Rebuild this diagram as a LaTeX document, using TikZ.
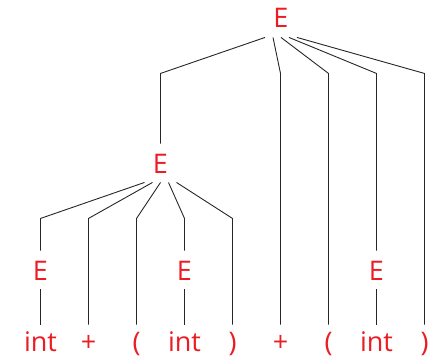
\documentclass[tikz,border=0pt]{standalone}
\usepackage{fontspec}
\setmainfont{Open Sans}
\usepackage{tikz}
\definecolor{symred}{RGB}{236,28,36}

\begin{document}
\begin{tikzpicture}[x=1pt, y=1pt, line width=0.9pt,
  sym/.style={symred, font=\fontsize{27}{27}\selectfont, anchor=base,
    text height=20pt, text depth=0pt, inner xsep=2pt, inner ysep=9pt},
  tok/.style={sym, text height=17pt},
  edge/.style={black!85}]
  \useasboundingbox (0,0) rectangle (437,357);
  % nonterminals
  \node[sym] (e0) at (281,329) {E};
  \node[sym] (e1) at (160.5,184) {E};
  \node[sym] (e2) at (40.5,77) {E};
  \node[sym] (e3) at (184.5,77) {E};
  \node[sym] (e4) at (376.5,77) {E};
  % tokens
  \node[tok] (t1) at (40.5,6) {int};
  \node[tok] (t2) at (88.5,6) {+};
  \node[tok] (t3) at (136.5,6) {(};
  \node[tok] (t4) at (184.5,6) {int};
  \node[tok] (t5) at (232.5,6) {)};
  \node[tok] (t6) at (280.5,6) {+};
  \node[tok] (t7) at (328.5,6) {(};
  \node[tok] (t8) at (376.5,6) {int};
  \node[tok] (t9) at (424.5,6) {)};
  % knee levels
  \coordinate (k0) at ([yshift=-36pt]e0.south);
  \coordinate (k1) at ([yshift=-36pt]e1.south);
  % E -> E + ( E ) ... top
  \draw[edge] ([xshift=-16pt]e0.south) -- (k0 -| e1) -- (e1.north);
  \draw[edge] ([xshift=-8pt]e0.south) -- (k0 -| t6) -- (t6.north);
  \draw[edge] (e0.south) -- (k0 -| t7) -- (t7.north);
  \draw[edge] ([xshift=8pt]e0.south) -- (k0 -| e4) -- (e4.north);
  \draw[edge] ([xshift=16pt]e0.south) -- (k0 -| t9) -- (t9.north);
  % middle E
  \draw[edge] ([xshift=-16pt]e1.south) -- (k1 -| e2) -- (e2.north);
  \draw[edge] ([xshift=-8pt]e1.south) -- (k1 -| t2) -- (t2.north);
  \draw[edge] (e1.south) -- (k1 -| t3) -- (t3.north);
  \draw[edge] ([xshift=8pt]e1.south) -- (k1 -| e3) -- (e3.north);
  \draw[edge] ([xshift=16pt]e1.south) -- (k1 -| t5) -- (t5.north);
  % E -> int
  \draw[edge] (e2.south) -- (t1.north);
  \draw[edge] (e3.south) -- (t4.north);
  \draw[edge] (e4.south) -- (t8.north);
\end{tikzpicture}
\end{document}
